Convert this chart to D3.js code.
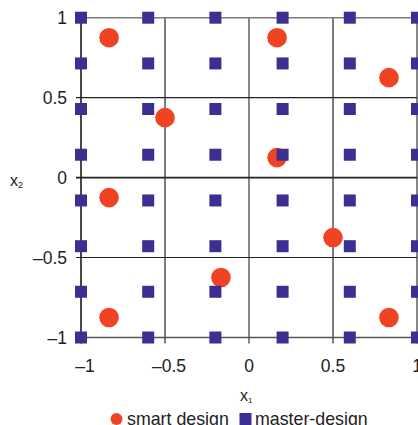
<!DOCTYPE html>
<html><head><meta charset="utf-8">
<script src="https://cdn.jsdelivr.net/npm/d3@7"></script>
<style>html,body{margin:0;padding:0;background:#fff;}svg{display:block;font-family:"Liberation Sans",Arial,sans-serif;}</style>
</head><body>
<svg id="c" width="418" height="425"></svg>
<script>
const xTicks = [-1, -0.5, 0, 0.5, 1];
const yTicks = [-1, -0.5, 0, 0.5, 1];
const masterX = [-1, -0.6, -0.2, 0.2, 0.6, 1];
const masterY = [1, 0.714, 0.429, 0.143, -0.143, -0.429, -0.714, -1];
const smartX = [-0.833, 0.167, 0.833, -0.5, 0.167, -0.833, 0.5, -0.167, -0.833, 0.833];
const smartY = [0.875, 0.875, 0.625, 0.375, 0.125, -0.125, -0.375, -0.625, -0.875, -0.875];
const legendLabels = ["smart design", "master-design"];

const red = "#ef4323", blue = "#3c2f92";
const svg = d3.select("#c");
const x = d3.scaleLinear().domain([-1, 1]).range([81, 417]);
const y = d3.scaleLinear().domain([-1, 1]).range([337.5, 17.7]);
const fmt = d => d === 0 ? "0" : (d < 0 ? "\u2013" : "") + String(Math.abs(d));

// grid lines
const g = svg.append("g");
g.selectAll(".vx").data(xTicks).join("line")
  .attr("x1", d => x(d)).attr("x2", d => x(d))
  .attr("y1", y(1)).attr("y2", y(-1) + 6)
  .attr("stroke", d => (d === 0 || d === 1) ? "#7a7a7a" : (d === -1 ? "#333" : "#111"))
  .attr("stroke-width", d => (d === 0 || d === -1 || d === 1) ? 1.8 : 1.1);
g.selectAll(".hy").data(yTicks).join("line")
  .attr("y1", d => y(d)).attr("y2", d => y(d))
  .attr("x1", x(-1) - 5).attr("x2", x(1))
  .attr("stroke", d => (d === 1) ? "#7a7a7a" : (d === -1 ? "#555" : "#222"))
  .attr("stroke-width", d => (d === 1 || d === -1 || d === 0) ? 1.6 : 1.1);

// tick labels
svg.append("g").selectAll("text").data(yTicks).join("text")
  .attr("x", 67).attr("y", d => y(d)).attr("dy", "0.36em")
  .attr("text-anchor", "end").attr("font-size", 17.5).attr("fill", "#222")
  .text(fmt);
svg.append("g").selectAll("text").data(xTicks).join("text")
  .attr("x", d => x(d) + (d < 0 ? 4 : 0)).attr("y", 372)
  .attr("text-anchor", "middle").attr("font-size", 17.5).attr("fill", "#222")
  .text(fmt);

// axis titles
const t1 = svg.append("text").attr("x", 240).attr("y", 401).attr("font-size", 16).attr("fill", "#222");
t1.append("tspan").text("x");
t1.append("tspan").attr("font-size", 8).attr("dy", 2).text("1");
const t2 = svg.append("text").attr("x", 10).attr("y", 185.5).attr("font-size", 16).attr("fill", "#222");
t2.append("tspan").text("x");
t2.append("tspan").attr("font-size", 9).attr("dy", 2).text("2");

// smart design circles
const smart = smartX.map((v, i) => ({x: v, y: smartY[i]}));
svg.append("g").selectAll("circle").data(smart).join("circle")
  .attr("cx", d => x(d.x)).attr("cy", d => y(d.y)).attr("r", 9.8).attr("fill", red);

// master design squares
const master = [];
masterY.forEach(yy => masterX.forEach(xx => master.push({x: xx, y: yy})));
const s = 12;
svg.append("g").selectAll("rect").data(master).join("rect")
  .attr("x", d => x(d.x) - s / 2).attr("y", d => y(d.y) - s / 2)
  .attr("width", s).attr("height", s).attr("fill", blue);

// legend
const lg = svg.append("g");
lg.append("circle").attr("cx", 116.5).attr("cy", 419).attr("r", 6).attr("fill", red);
lg.append("text").attr("x", 127).attr("y", 424.5).attr("font-size", 17.8).attr("fill", "#222").text(legendLabels[0]);
lg.append("rect").attr("x", 239.5).attr("y", 413).attr("width", 12).attr("height", 12).attr("fill", blue);
lg.append("text").attr("x", 255).attr("y", 424.5).attr("font-size", 17.8).attr("fill", "#222").text(legendLabels[1]);
</script>
</body></html>
